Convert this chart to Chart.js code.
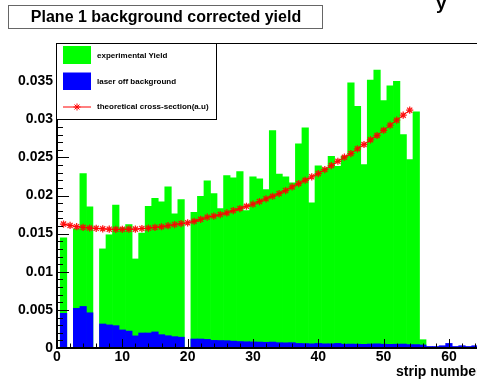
<!DOCTYPE html>
<html>
<head>
<meta charset="utf-8">
<script src="https://cdn.jsdelivr.net/npm/chart.js@4.4.1/dist/chart.umd.min.js"></script>
<style>
  html, body { margin: 0; padding: 0; background: #fff; overflow: hidden; }
  canvas { display: block; }
</style>
</head>
<body>
<canvas id="c" width="477" height="381"></canvas>
<script>
// Strip numbers (bin centres) of the plane-1 histograms
const strips = [
  1, 2, 3, 4, 5, 6, 7, 8, 9, 10, 11, 12, 13, 14, 15, 16,
  17, 18, 19, 20, 21, 22, 23, 24, 25, 26, 27, 28, 29, 30, 31, 32,
  33, 34, 35, 36, 37, 38, 39, 40, 41, 42, 43, 44, 45, 46, 47, 48,
  49, 50, 51, 52, 53, 54, 55, 56, 57, 58, 59, 60, 61, 62, 63, 64
];

// Background corrected experimental yield per strip
const yieldValues = [
  0.01444, 0, 0.01562, 0.02288, 0.01851, 0, 0.01300, 0.01485,
  0.01875, 0.01575, 0.01619, 0.01168, 0.01507, 0.01859, 0.01964, 0.01918,
  0.02113, 0.01759, 0.01947, 0, 0.01780, 0.01990, 0.02192, 0.02025,
  0.01829, 0.02262, 0.02232, 0.02314, 0.01802, 0.02245, 0.02218, 0.02078,
  0.02852, 0.02281, 0.02245, 0.02166, 0.02678, 0.02888, 0.01903, 0.02389,
  0.02360, 0.02515, 0.02384, 0.02518, 0.03479, 0.03171, 0.02406, 0.03513,
  0.03644, 0.03246, 0.03437, 0.03496, 0.02800, 0.02472, 0.03098, 0.00109,
  0, 0, 0, 0, 0, 0, 0, 0
];

// Laser-off background per strip
const backgroundValues = [
  0.00455, 0, 0.00520, 0.00545, 0.00462, 0, 0.00315, 0.00303,
  0.00293, 0.00237, 0.00222, 0.00159, 0.00197, 0.00197, 0.00211, 0.00175,
  0.00161, 0.00149, 0.00142, 0, 0.00118, 0.00118, 0.00113, 0.00100,
  0.00098, 0.00096, 0.00090, 0.00085, 0.00082, 0.00080, 0.00078, 0.00075,
  0.00078, 0.00070, 0.00068, 0.00070, 0.00060, 0.00058, 0.00055, 0.00060,
  0.00055, 0.00055, 0.00060, 0.00050, 0.00052, 0.00050, 0.00048, 0.00052,
  0.00055, 0.00050, 0.00048, 0.00050, 0.00052, 0.00045, 0.00045, 0.00040,
  0.00020, 0.00020, 0.00030, 0.00060, 0.00020, 0.00030, 0.00020, 0.00030
];

// Theoretical cross-section (arbitrary units) at strips 1..54
const theoryStrips = [
  1, 2, 3, 4, 5, 6, 7, 8, 9, 10, 11, 12, 13, 14, 15, 16, 17, 18,
  19, 20, 21, 22, 23, 24, 25, 26, 27, 28, 29, 30, 31, 32, 33, 34, 35, 36,
  37, 38, 39, 40, 41, 42, 43, 44, 45, 46, 47, 48, 49, 50, 51, 52, 53, 54
];
const theoryValues = [
  0.01625, 0.01608, 0.01591, 0.01582, 0.01574, 0.01569, 0.01563, 0.01558, 0.01557,
  0.01557, 0.01559, 0.01559, 0.01566, 0.01573, 0.01582, 0.01590, 0.01604, 0.01619,
  0.01632, 0.01642, 0.01662, 0.01687, 0.01716, 0.01730, 0.01750, 0.01772, 0.01802,
  0.01829, 0.01859, 0.01886, 0.01920, 0.01956, 0.01990, 0.02025, 0.02065, 0.02113,
  0.02157, 0.02200, 0.02245, 0.02288, 0.02340, 0.02393, 0.02449, 0.02502, 0.02550,
  0.02612, 0.02669, 0.02730, 0.02787, 0.02856, 0.02922, 0.02988, 0.03053, 0.03119
];

// Axis ranges and labelled tick values
const xRange = [0, 64.3];
const yRange = [0, 0.04];
const xTickLabels = [0, 10, 20, 30, 40, 50, 60];
const yTickLabels = [0, 0.005, 0.01, 0.015, 0.02, 0.025, 0.03, 0.035];

const FONT = '"Liberation Sans", Arial, Helvetica, sans-serif';
const GREEN = '#00ff00';
const BLUE = '#0000ff';
const RED = '#ff0000';

function pairs(xs, ys) { return xs.map((x, i) => ({ x: x, y: ys[i] })); }

function drawStar(ctx, x, y, r) {
  ctx.beginPath();
  ctx.moveTo(x - r, y); ctx.lineTo(x + r, y);
  ctx.moveTo(x, y - r); ctx.lineTo(x, y + r);
  const d = r * 0.7071;
  ctx.moveTo(x - d, y - d); ctx.lineTo(x + d, y + d);
  ctx.moveTo(x - d, y + d); ctx.lineTo(x + d, y - d);
  ctx.stroke();
}

// ROOT-style frame: thick axes, inward ticks, title pave, legend and axis title
const rootFrame = {
  id: 'rootFrame',
  beforeDraw(chart) {
    const ctx = chart.ctx;
    ctx.save();
    ctx.fillStyle = '#fff';
    ctx.fillRect(0, 0, chart.width, chart.height);
    ctx.restore();
  },
  afterDatasetsDraw(chart) {
    const ctx = chart.ctx;
    const a = chart.chartArea;
    const xs = chart.scales.x, ys = chart.scales.y;
    ctx.save();
    ctx.strokeStyle = '#000';
    ctx.lineWidth = 1;
    // y ticks: majors every 0.005, minors every 0.001
    for (let i = 0; i <= 40; i++) {
      const v = i * 0.001;
      if (v > yRange[1] + 1e-9) break;
      const py = Math.round(ys.getPixelForValue(v)) + 0.5;
      const len = (i % 5 === 0) ? 12 : 6;
      ctx.beginPath(); ctx.moveTo(a.left, py); ctx.lineTo(a.left + len, py); ctx.stroke();
    }
    // x ticks: majors every 10, minors every 2
    for (let v = 0; v <= xRange[1]; v += 2) {
      const px = Math.round(xs.getPixelForValue(v)) + 0.5;
      const len = (v % 10 === 0) ? 9 : 4.5;
      ctx.beginPath(); ctx.moveTo(px, a.bottom); ctx.lineTo(px, a.bottom - len); ctx.stroke();
    }
    // frame top
    ctx.beginPath(); ctx.moveTo(a.left, a.top + 0.5); ctx.lineTo(a.right, a.top + 0.5); ctx.stroke();
    // thick axes
    ctx.lineWidth = 2;
    ctx.beginPath(); ctx.moveTo(a.left, a.top); ctx.lineTo(a.left, a.bottom + 1); ctx.stroke();
    ctx.beginPath(); ctx.moveTo(a.left - 1, a.bottom); ctx.lineTo(a.right, a.bottom); ctx.stroke();
    ctx.restore();
  },
  afterDraw(chart) {
    const ctx = chart.ctx;
    ctx.save();

    // title pave
    ctx.fillStyle = '#fff';
    ctx.fillRect(8.5, 5.5, 314, 23);
    ctx.strokeStyle = '#666';
    ctx.lineWidth = 1;
    ctx.strokeRect(8.5, 5.5, 314, 23);
    ctx.fillStyle = '#000';
    ctx.font = 'bold 16px ' + FONT;
    ctx.textAlign = 'center';
    ctx.textBaseline = 'middle';
    ctx.fillText('Plane 1 background corrected yield', 166, 17.5);

    // clipped glyph at the top right
    ctx.font = 'bold 19px ' + FONT;
    ctx.textAlign = 'left';
    ctx.textBaseline = 'alphabetic';
    ctx.fillText('y', 436, 8.5);

    // legend box
    ctx.fillStyle = '#fff';
    ctx.fillRect(56.5, 43.5, 160, 76);
    ctx.strokeStyle = '#000';
    ctx.strokeRect(56.5, 43.5, 160, 76);
    ctx.fillStyle = GREEN;
    ctx.fillRect(63, 46, 28, 18);
    ctx.fillStyle = BLUE;
    ctx.fillRect(63, 72.5, 28, 17.5);
    ctx.strokeStyle = RED;
    ctx.lineWidth = 1;
    ctx.beginPath(); ctx.moveTo(63, 107); ctx.lineTo(91, 107); ctx.stroke();
    drawStar(ctx, 77, 107, 3.5);
    ctx.fillStyle = '#000';
    ctx.font = 'bold 8px ' + FONT;
    ctx.textAlign = 'left';
    ctx.textBaseline = 'middle';
    ctx.fillText('experimental Yield', 97, 55.5);
    ctx.fillText('laser off background', 97, 82);
    ctx.fillText('theoretical cross-section(a.u)', 97, 107);

    // x-axis title
    ctx.font = 'bold 14px ' + FONT;
    ctx.textBaseline = 'middle';
    ctx.fillText('strip number', 396, 372);
    ctx.restore();
  }
};

new Chart(document.getElementById('c'), {
  type: 'bar',
  data: {
    datasets: [
      {
        type: 'line',
        label: 'theoretical cross-section(a.u)',
        data: pairs(theoryStrips, theoryValues),
        borderColor: RED,
        borderWidth: 1,
        backgroundColor: RED,
        pointStyle: 'star',
        pointRadius: 3.6,
        pointBorderColor: 'rgba(255,0,0,0.9)',
        pointBorderWidth: 1.3,
        fill: false,
        tension: 0,
        order: 0
      },
      {
        label: 'laser off background',
        data: pairs(strips, backgroundValues),
        backgroundColor: BLUE,
        borderWidth: 0,
        grouped: false,
        barPercentage: 1,
        categoryPercentage: 1,
        order: 1
      },
      {
        label: 'experimental Yield',
        data: pairs(strips, yieldValues),
        backgroundColor: GREEN,
        borderWidth: 0,
        grouped: false,
        barPercentage: 1,
        categoryPercentage: 1,
        order: 2
      }
    ]
  },
  options: {
    responsive: false,
    animation: false,
    events: [],
    layout: { autoPadding: false, padding: { top: 43, left: 0, right: 0, bottom: 0 } },
    plugins: { legend: { display: false }, tooltip: { enabled: false }, title: { display: false } },
    scales: {
      x: {
        type: 'linear',
        min: xRange[0],
        max: xRange[1],
        offset: false,
        grid: { display: false, drawTicks: false },
        border: { display: false },
        ticks: {
          stepSize: 10,
          includeBounds: false,
          autoSkip: false,
          maxRotation: 0,
          padding: 1,
          color: '#000',
          font: { family: FONT, size: 14, weight: 'bold' },
          callback: v => xTickLabels.includes(v) ? String(v) : ''
        },
        afterFit(s) { s.height = 33; }
      },
      y: {
        type: 'linear',
        min: yRange[0],
        max: yRange[1],
        grid: { display: false, drawTicks: false },
        border: { display: false },
        ticks: {
          stepSize: 0.005,
          includeBounds: false,
          autoSkip: false,
          padding: 4,
          color: '#000',
          font: { family: FONT, size: 14, weight: 'bold' },
          callback: v => {
            const r = parseFloat(Number(v).toFixed(3));
            return yTickLabels.some(t => Math.abs(t - r) < 1e-9) ? String(r) : '';
          }
        },
        afterFit(s) { s.width = 57; }
      }
    }
  },
  plugins: [rootFrame]
});
</script>
</body>
</html>
